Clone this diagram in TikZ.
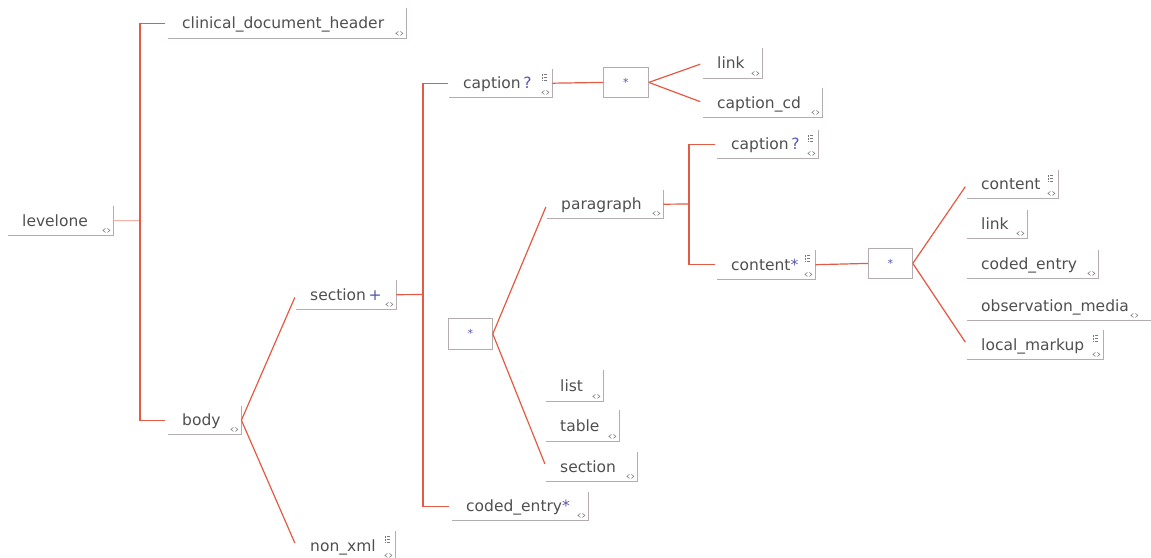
\documentclass[tikz,border=0pt]{standalone}
\usepackage{fontspec}
\setmainfont{DejaVu Sans}
\definecolor{conred}{HTML}{E35B45}
\definecolor{conlight}{HTML}{F2B3A6}
\definecolor{boxgray}{HTML}{B5ADAD}
\definecolor{txtgray}{HTML}{505050}
\definecolor{mark}{HTML}{5656B0}
\definecolor{icongray}{HTML}{7A7A7A}
\tikzset{
  elem/.style={inner xsep=14pt, inner ysep=0pt, align=left, text=txtgray,
    text height=15pt, text depth=4pt,
    font=\fontsize{15.5}{18}\selectfont},
  starbox/.style={draw=boxgray, line width=0.8pt, inner sep=0pt, text=mark,
    font=\fontsize{11}{12}\selectfont},
  boxline/.style={draw=boxgray, line width=0.9pt},
  conn/.style={draw=conred, line width=1.2pt},
  connlight/.style={draw=conlight, line width=1.1pt},
  gap/.style={shorten >=3pt},
  icon/.style={draw=icongray, line width=0.55pt},
  dia/.pic={\draw[icon] (-1,-2)--(-3.5,0)--(-1,2) (1,-2)--(3.5,0)--(1,2);},
  kids/.pic={\draw[icon, densely dotted] (-2,-3.5)--(-2,3.5);
             \draw[icon] (0,-3)--(3,-3) (0,0)--(3,0) (0,3)--(3,3);}
}
\newcommand{\mk}[1]{\textcolor{mark}{#1}}
\begin{document}
\begin{tikzpicture}[x=1pt,y=-1pt]
\useasboundingbox[fill=white] (0,0) rectangle (1151,557);
% element boxes: anchor north west at (left, top)
\node[elem, minimum width=105pt, minimum height=29pt, text width=77pt, anchor=north west] (lvl) at (8,206) {levelone};
\node[elem, minimum width=238pt, minimum height=30pt, text width=210pt, anchor=north west] (cdh) at (168,8) {clinical\_document\_header};
\node[elem, minimum width=73pt, minimum height=28pt, text width=45pt, anchor=north west] (body) at (168,406) {body};
\node[elem, minimum width=99pt, minimum height=29pt, text width=72pt, anchor=north west] (secp) at (296,280) {section\mk{\,+}};
\node[elem, minimum width=99pt, minimum height=29pt, text width=71pt, anchor=north west] (nonxml) at (296,531) {non\_xml};
\node[elem, minimum width=103pt, minimum height=28pt, text width=75pt, anchor=north west] (cap1) at (449,69) {caption\,\mk{?}};
\node[elem, minimum width=59pt, minimum height=30pt, text width=31pt, anchor=north west] (link1) at (703,48) {link};
\node[elem, minimum width=119pt, minimum height=29pt, text width=91pt, anchor=north west] (capcd) at (703,88) {caption\_cd};
\node[elem, minimum width=116pt, minimum height=28pt, text width=88pt, anchor=north west] (para) at (547,190) {paragraph};
\node[elem, minimum width=57pt, minimum height=31pt, text width=29pt, anchor=north west] (list) at (546,370) {list};
\node[elem, minimum width=73pt, minimum height=31pt, text width=45pt, anchor=north west] (table) at (546,410) {table};
\node[elem, minimum width=91pt, minimum height=29pt, text width=63pt, anchor=north west] (sec2) at (546,452) {section};
\node[elem, minimum width=136pt, minimum height=28pt, text width=108pt, anchor=north west] (cde) at (452,492) {coded\_entry\mk{*}};
\node[elem, minimum width=101pt, minimum height=28pt, text width=73pt, anchor=north west] (cap2) at (717,130) {caption\,\mk{?}};
\node[elem, minimum width=98pt, minimum height=29pt, text width=70pt, anchor=north west] (cont1) at (717,250) {content\mk{*}};
\node[elem, minimum width=91pt, minimum height=28pt, text width=63pt, anchor=north west] (cont2) at (967,170) {content};
\node[elem, minimum width=60pt, minimum height=28pt, text width=32pt, anchor=north west] (link2) at (967,210) {link};
\node[elem, minimum width=131pt, minimum height=28pt, text width=103pt, anchor=north west] (ce2) at (967,250) {coded\_entry};
\node[elem, minimum width=186pt, minimum height=29pt, text width=158pt, anchor=north west] (obs) at (967,291) {observation\_media};
\node[elem, minimum width=136pt, minimum height=29pt, text width=108pt, anchor=north west] (lm) at (967,330) {local\_markup};
% sequence / choice boxes
\node[starbox, minimum width=45pt, minimum height=30pt, anchor=north west] (st1) at (603,67) {*};
\node[starbox, minimum width=44pt, minimum height=31pt, anchor=north west] (st2) at (448,318) {*};
\node[starbox, minimum width=44pt, minimum height=30pt, anchor=north west] (st3) at (868,248) {*};
% box edges
\foreach \n in {lvl,cdh,body,secp,nonxml,cap1,link1,capcd,para,list,table,sec2,cde,cap2,cont1,cont2,link2,ce2,obs,lm}
  \draw[boxline] (\n.south west) -- (\n.south east) -- (\n.north east);
% icons
\foreach \n in {lvl,cdh,body,secp,nonxml,cap1,link1,capcd,para,list,table,sec2,cde,cap2,cont1,cont2,link2,ce2,lm}
  \pic at ([shift={(-7,-5)}]\n.south east) {dia};
\pic at ([shift={(-19,-5)}]obs.south east) {dia};
\foreach \n in {nonxml,cap1,cap2,cont1,cont2,lm}
  \pic at ([shift={(-8,8)}]\n.north east) {kids};
% connectors
\coordinate (bus1) at (140,220.5);
\coordinate (bus2) at (423,294.5);
\coordinate (bus3) at (689,204);
\draw[connlight] (lvl.east) -- (bus1);
\draw[conn, shorten <=3pt, shorten >=3pt] (cdh.west) -| (bus1) |- (body.west);
\draw[conn, gap] (body.east) -- (secp.west);
\draw[conn, gap] (body.east) -- (nonxml.west);
\draw[conn] (secp.east) -- (bus2);
\draw[conn, shorten <=1pt, shorten >=3pt] (cap1.west) -| (bus2) |- (cde.west);
\draw[conn] (cap1.east) -- (st1.west);
\draw[conn, gap] (st1.east) -- (link1.west);
\draw[conn, gap] (st1.east) -- (capcd.west);
\draw[conn, gap] (st2.east) -- (para.west);
\draw[conn, gap] (st2.east) -- (sec2.west);
\draw[conn] (para.east) -- (bus3);
\draw[conn, shorten <=2pt, shorten >=2pt] (cap2.west) -| (bus3) |- (cont1.west);
\draw[conn] (cont1.east) -- (st3.west);
\draw[conn, gap] (st3.east) -- (cont2.west);
\draw[conn, gap] (st3.east) -- (lm.west);
\end{tikzpicture}
\end{document}
